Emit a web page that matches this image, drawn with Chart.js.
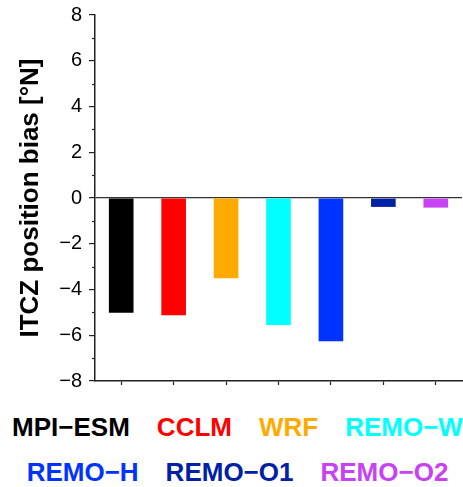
<!DOCTYPE html>
<html>
<head>
<meta charset="utf-8">
<script src="https://cdn.jsdelivr.net/npm/chart.js@4.4.1/dist/chart.umd.min.js"></script>
<style>
  html, body { margin: 0; padding: 0; background: #fff; }
  #wrap { position: relative; width: 463px; height: 400px; }
  #legend { width: 463px; box-sizing: border-box; padding-left: 12px; margin-top: 5px;
            font-family: 'Liberation Sans', Arial, Helvetica, sans-serif; font-weight: bold; font-size: 26px; }
  .row { display: flex; justify-content: center; gap: 27px; line-height: 45px; height: 45px; white-space: nowrap; }
</style>
</head>
<body>
<div id="wrap"><canvas id="c"></canvas></div>
<div id="legend"></div>
<script>
const categories = ['MPI\u2212ESM', 'CCLM', 'WRF', 'REMO\u2212W', 'REMO\u2212H', 'REMO\u2212O1', 'REMO\u2212O2'];
const biasValues = [-5.02, -5.13, -3.51, -5.55, -6.26, -0.39, -0.42];
const barColors = ['#000000', '#FF0000', '#FFAA00', '#00FFFF', '#0033FF', '#0021A6', '#C842F5'];
const legendRows = [[0, 1, 2, 3], [4, 5, 6]];
const yTicks = [-8, -6, -4, -2, 0, 2, 4, 6, 8];
const yMinorTicks = [-7, -5, -3, -1, 1, 3, 5, 7];

const FONT = "'Liberation Sans', Arial, Helvetica, sans-serif";

const minorTicksPlugin = {
  id: 'minorTicks',
  afterDraw(chart) {
    const y = chart.scales.y;
    const ctx = chart.ctx;
    ctx.save();
    ctx.strokeStyle = '#222';
    ctx.lineWidth = 1.2;
    yMinorTicks.forEach(v => {
      const py = Math.round(y.getPixelForValue(v)) + 0.5;
      ctx.beginPath();
      ctx.moveTo(y.right - 3, py);
      ctx.lineTo(y.right, py);
      ctx.stroke();
    });
    ctx.restore();
  }
};

const chart = new Chart(document.getElementById('c'), {
  type: 'bar',
  data: {
    labels: categories,
    datasets: [{
      data: biasValues,
      backgroundColor: barColors,
      borderWidth: 0,
      barPercentage: 0.47,
      categoryPercentage: 1.0
    }]
  },
  options: {
    responsive: true,
    maintainAspectRatio: false,
    animation: false,
    layout: { padding: { left: 0, right: 1, top: 15, bottom: 15 } },
    plugins: { legend: { display: false }, tooltip: { enabled: false } },
    scales: {
      x: {
        type: 'category',
        ticks: { display: false },
        grid: { drawOnChartArea: false, offset: false, tickLength: 4, tickColor: '#222', tickWidth: 1.2 },
        border: { display: true, color: '#222', width: 1.5 }
      },
      y: {
        min: -8,
        max: 8,
        afterBuildTicks(scale) { scale.ticks = yTicks.map(v => ({ value: v })); },
        afterFit(scale) {
          scale.width = 95;
          scale.paddingTop = 0;
          scale.paddingBottom = 0;
        },
        ticks: {
          color: '#000',
          padding: 7,
          font: { family: FONT, size: 20 },
          callback: v => (v < 0 ? '\u2212' + Math.abs(v) : String(v))
        },
        grid: {
          drawOnChartArea: true,
          color: ctx => (ctx.tick && ctx.tick.value === 0 ? '#333' : 'rgba(0,0,0,0)'),
          lineWidth: 1.2,
          tickLength: 6,
          tickColor: '#222',
          tickWidth: 1.2
        },
        border: { display: true, color: '#222', width: 1.5 },
        title: {
          display: true,
          text: 'ITCZ position bias [°N]',
          color: '#000',
          font: { family: FONT, size: 26, weight: 'bold' },
          padding: { top: 15, bottom: 14 }
        }
      }
    }
  },
  plugins: [minorTicksPlugin]
});

const legend = document.getElementById('legend');
legendRows.forEach(row => {
  const div = document.createElement('div');
  div.className = 'row';
  row.forEach(i => {
    const s = document.createElement('span');
    s.textContent = categories[i];
    s.style.color = barColors[i];
    div.appendChild(s);
  });
  legend.appendChild(div);
});
</script>
</body>
</html>
